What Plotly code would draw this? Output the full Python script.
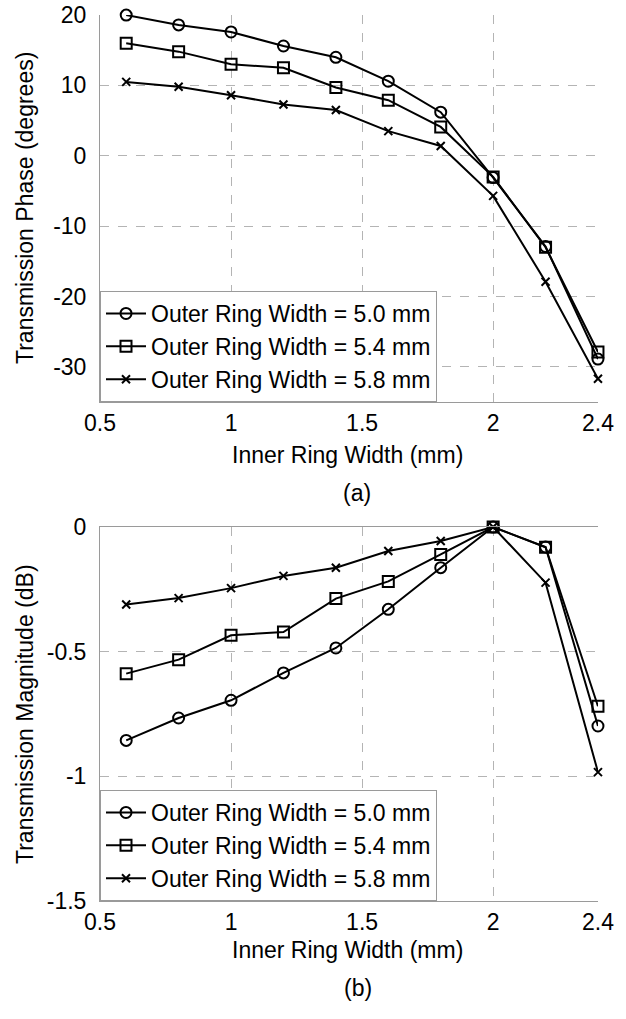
import plotly.graph_objects as go
from plotly.subplots import make_subplots

inner_width = [0.6, 0.8, 1.0, 1.2, 1.4, 1.6, 1.8, 2.0, 2.2, 2.4]
series_names = ["Outer Ring Width = 5.0 mm", "Outer Ring Width = 5.4 mm", "Outer Ring Width = 5.8 mm"]

phase_50 = [20.0, 18.6, 17.6, 15.6, 14.0, 10.6, 6.2, -3.1, -12.9, -28.9]
phase_54 = [16.0, 14.8, 13.0, 12.5, 9.7, 7.9, 4.1, -3.0, -13.0, -27.9]
phase_58 = [10.5, 9.8, 8.6, 7.3, 6.5, 3.5, 1.4, -5.7, -17.9, -31.7]

mag_50 = [-0.856, -0.766, -0.695, -0.585, -0.485, -0.33, -0.163, 0.0, -0.08, -0.798]
mag_54 = [-0.588, -0.532, -0.434, -0.421, -0.287, -0.218, -0.11, 0.0, -0.081, -0.719]
mag_58 = [-0.311, -0.285, -0.245, -0.196, -0.163, -0.096, -0.056, 0.0, -0.223, -0.983]

x_ticks = [0.5, 1, 1.5, 2, 2.4]
x_ticklabels = ["0.5", "1", "1.5", "2", "2.4"]
phase_ticks = [-30, -20, -10, 0, 10, 20]
phase_ticklabels = ["-30", "-20", "-10", "0", "10", "20"]
mag_ticks = [-1.5, -1, -0.5, 0]
mag_ticklabels = ["-1.5", "-1", "-0.5", "0"]

W, H = 626, 1019
L, R = 100, 598
T1, B1 = 15, 402
T2, B2 = 527, 901
ph = B2 - T1

fig = make_subplots(rows=2, cols=1)

symbols = ["circle-open", "square-open", "x-thin-open"]
sizes = [11, 11, 8]
FONT = "Liberation Sans, Arial, sans-serif"
FS = 23

for i, (name, ys) in enumerate(zip(series_names, [phase_50, phase_54, phase_58])):
    fig.add_trace(go.Scatter(x=inner_width, y=ys, name=name, mode="lines+markers",
                             line=dict(color="black", width=2), cliponaxis=False,
                             marker=dict(symbol=symbols[i], size=sizes[i], color="black",
                                         line=dict(color="black", width=2)),
                             legend="legend"), row=1, col=1)
for i, (name, ys) in enumerate(zip(series_names, [mag_50, mag_54, mag_58])):
    fig.add_trace(go.Scatter(x=inner_width, y=ys, name=name, mode="lines+markers",
                             line=dict(color="black", width=2), cliponaxis=False,
                             marker=dict(symbol=symbols[i], size=sizes[i], color="black",
                                         line=dict(color="black", width=2)),
                             legend="legend2"), row=2, col=1)

d1 = [(B2 - B1) / ph, 1.0]
d2 = [0.0, (B2 - T2) / ph]

grid = dict(showgrid=True, gridcolor="#b4b4b4", griddash="dash", gridwidth=1,
            zeroline=False, showline=True, linecolor="#9a9a9a", linewidth=1,
            ticks="", ticklen=0, automargin=False, ticklabeloverflow="allow",
            tickfont=dict(size=FS, color="black", family=FONT))

fig.update_xaxes(range=[0.5, 2.4001], tickvals=x_ticks, ticktext=x_ticklabels, **grid)
fig.update_yaxes(**grid)
fig.update_layout(
    xaxis=dict(domain=[0, 1], ticklabelstandoff=0),
    xaxis2=dict(domain=[0, 1], mirror=True, ticklabelstandoff=0),
    yaxis=dict(domain=d1, range=[-35, 20.01], tickvals=phase_ticks, ticktext=phase_ticklabels,
               ticklabelstandoff=8),
    yaxis2=dict(domain=d2, range=[-1.5001, 0.0002], tickvals=mag_ticks, ticktext=mag_ticklabels,
                ticklabelstandoff=8),
)

legend_style = dict(x=0, xanchor="left", bgcolor="white", bordercolor="#9a9a9a", borderwidth=1,
                    font=dict(size=FS, family=FONT, color="black"), tracegroupgap=0,
                    itemwidth=40)
fig.update_layout(
    legend=dict(y=d1[0], yanchor="bottom", **legend_style),
    legend2=dict(y=0, yanchor="bottom", **legend_style),
)

def yp(pix):
    return (B2 - pix) / ph

def xp(pix):
    return (pix - L) / (R - L)

annots = [
    dict(text="Transmission Phase (degrees)", x=xp(25), y=yp(208), textangle=-90),
    dict(text="Transmission Magnitude (dB)", x=xp(25), y=yp(714), textangle=-90),
    dict(text="Inner Ring Width (mm)", x=xp(347), y=yp(455)),
    dict(text="Inner Ring Width (mm)", x=xp(347), y=yp(950)),
    dict(text="(a)", x=xp(357), y=yp(493)),
    dict(text="(b)", x=xp(358), y=yp(988)),
]
for a in annots:
    fig.add_annotation(xref="paper", yref="paper", showarrow=False, xanchor="center", yanchor="middle",
                       font=dict(size=FS, family=FONT, color="black"), **a)

fig.update_layout(width=W, height=H, margin=dict(l=L, r=W - R, t=T1, b=H - B2, autoexpand=False),
                  plot_bgcolor="white", paper_bgcolor="white", showlegend=True)

fig.write_html("out.html", config={"displayModeBar": False, "staticPlot": True},
               post_script="document.body.style.margin='0';document.body.style.overflow='hidden';")
